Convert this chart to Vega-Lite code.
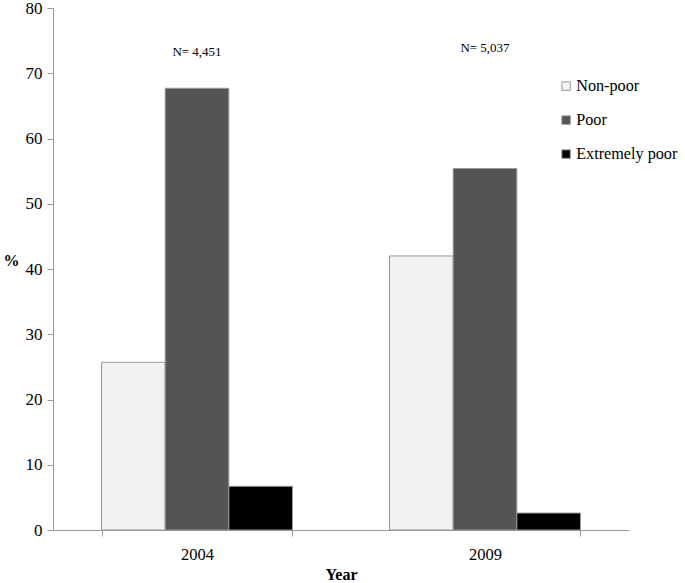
{
  "$schema": "https://vega.github.io/schema/vega-lite/v6.json",
  "autosize": {"type": "none"},
  "padding": {"left": 53, "top": 8, "right": 56, "bottom": 53},
  "width": 576,
  "height": 522,
  "background": "white",
  "config": {
    "view": {"stroke": null},
    "font": "Liberation Serif",
    "style": {"guide-label": {"font": "Liberation Serif"}, "guide-title": {"font": "Liberation Serif"}},
    "axis": {"labelColor": "#000", "titleColor": "#000", "domainColor": "#999", "tickColor": "#999", "grid": false}
  },
  "datasets": {
    "bars": [
      {"year": "2004", "group": "Non-poor", "pct": 25.7},
      {"year": "2004", "group": "Poor", "pct": 67.7},
      {"year": "2004", "group": "Extremely poor", "pct": 6.7},
      {"year": "2009", "group": "Non-poor", "pct": 42.0},
      {"year": "2009", "group": "Poor", "pct": 55.4},
      {"year": "2009", "group": "Extremely poor", "pct": 2.6}
    ],
    "notes": [
      {"year": "2004", "label": "N= 4,451", "pos": 73.3},
      {"year": "2009", "label": "N= 5,037", "pos": 73.9}
    ]
  },
  "layer": [
    {
      "data": {"name": "bars"},
      "mark": {"type": "bar", "stroke": "#999", "strokeWidth": 1},
      "encoding": {
        "x": {"field": "year", "type": "nominal", "title": "Year",
              "scale": {"paddingInner": 0.337, "paddingOuter": 0.1685},
              "axis": {"labelAngle": 0, "labelFont": "Liberation Serif", "titleFont": "Liberation Serif", "labelFontSize": 16.5, "labelPadding": 10, "tickBand": "extent", "tickSize": 6, "titleFontSize": 16, "titleFontWeight": "bold", "titlePadding": 4}},
        "xOffset": {"field": "group", "type": "nominal", "sort": ["Non-poor", "Poor", "Extremely poor"], "scale": {"paddingInner": 0, "paddingOuter": 0}},
        "y": {"field": "pct", "type": "quantitative", "title": "%",
              "scale": {"domain": [0, 80]},
              "axis": {"values": [0, 10, 20, 30, 40, 50, 60, 70, 80], "labelFont": "Liberation Serif", "titleFont": "Liberation Serif", "labelFontSize": 17, "tickSize": 6, "labelPadding": 5, "titleAngle": 0, "titleFontSize": 16, "titleFontWeight": "bold", "titleX": -50, "titleY": 252, "titleAlign": "left", "titleBaseline": "middle"}},
        "color": {"field": "group", "type": "nominal", "sort": ["Non-poor", "Poor", "Extremely poor"],
                  "scale": {"domain": ["Non-poor", "Poor", "Extremely poor"], "range": ["#f2f2f2", "#545454", "#000000"]},
                  "legend": {"title": null, "orient": "none", "legendX": 505, "legendY": 70, "symbolType": "square", "symbolSize": 72, "symbolStrokeColor": "#999", "symbolStrokeWidth": 1, "labelFont": "Liberation Serif", "labelFontSize": 16.2, "rowPadding": 17, "labelOffset": 2, "labelLimit": 200}}
      }
    },
    {
      "data": {"name": "notes"},
      "mark": {"type": "text", "fontSize": 13, "font": "Liberation Serif", "color": "#000"},
      "encoding": {
        "x": {"field": "year", "type": "nominal"},
        "y": {"field": "pos", "type": "quantitative"},
        "text": {"field": "label"}
      }
    }
  ]
}
